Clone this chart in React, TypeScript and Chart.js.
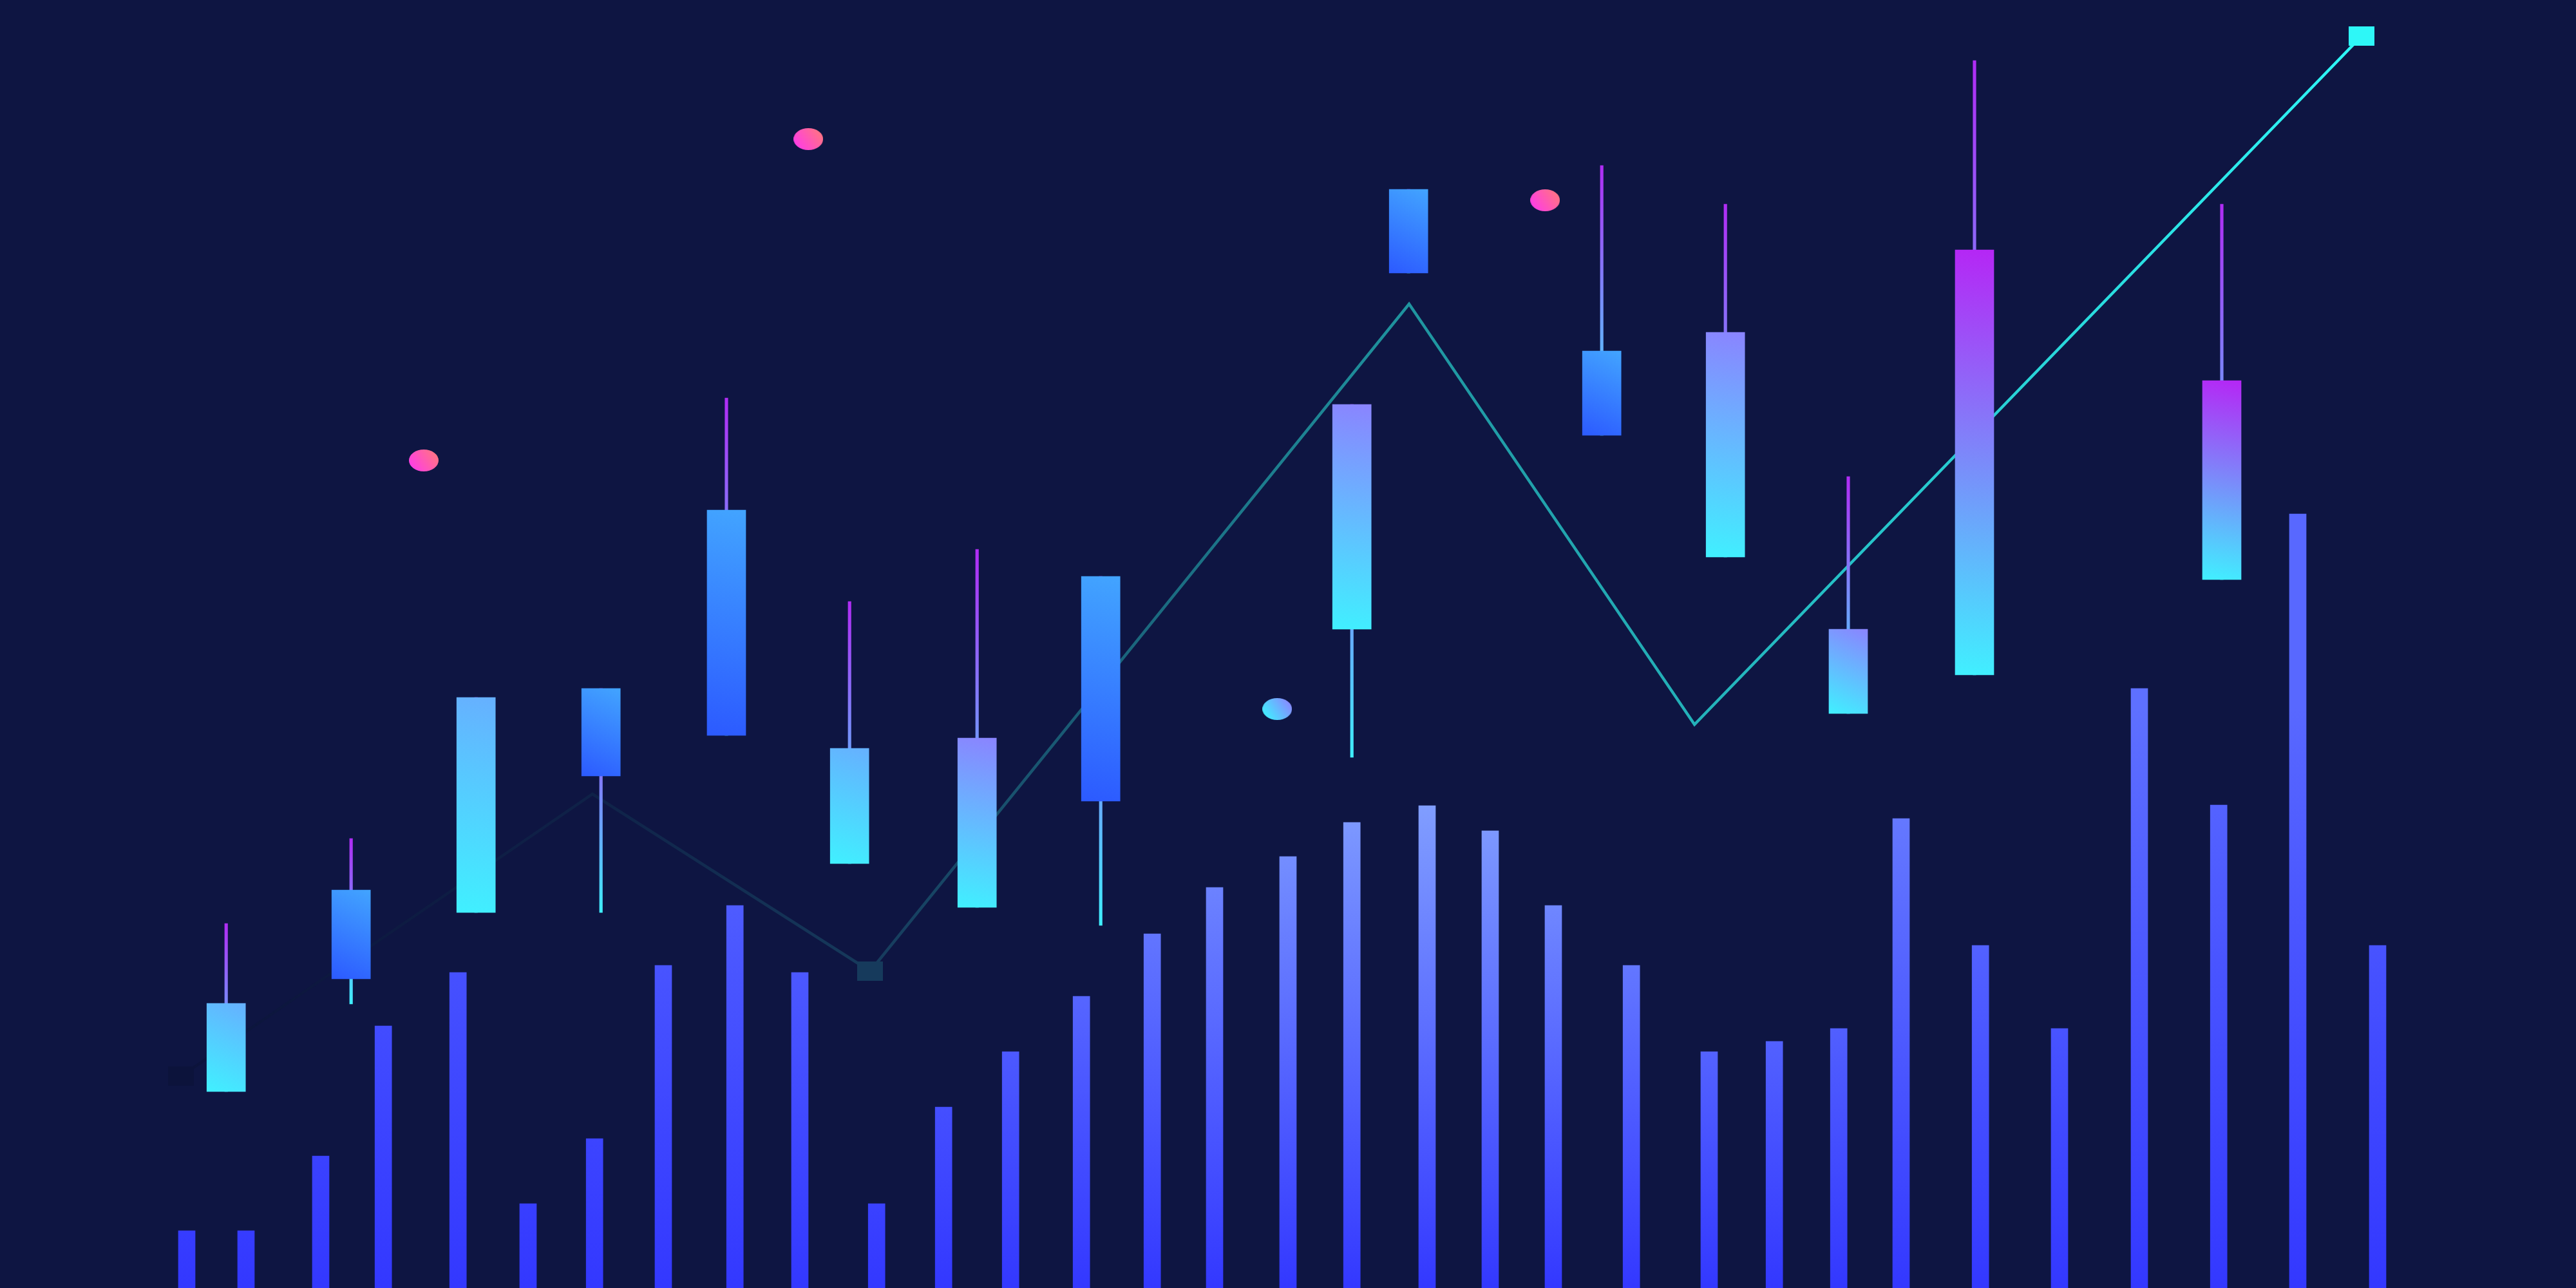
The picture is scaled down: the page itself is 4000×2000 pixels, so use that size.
import { useEffect, useRef } from "react";
import { Chart, registerables } from "chart.js";

Chart.register(...registerables);

// both axes run 0..100 across the whole canvas (time left to right, price bottom to top)
const volumeX = [
  7.25, 9.55, 12.45, 14.88, 17.78, 20.5, 23.08, 25.75, 28.53, 31.05, 34.03,
  36.63, 39.23, 41.98, 44.73, 47.15, 50.0, 52.48, 55.4, 57.85, 60.3, 63.33,
  66.35, 68.88, 71.38, 73.8, 76.88, 79.95, 83.05, 86.13, 89.2, 92.3,
];
const volumeValues = [
  4.45, 4.45, 10.25, 20.35, 24.5, 6.55, 11.6, 25.05, 29.7, 24.5, 6.55, 14.05,
  18.35, 22.65, 27.5, 31.1, 33.5, 36.15, 37.45, 35.5, 29.7, 25.05, 18.35,
  19.15, 20.15, 36.45, 26.6, 20.15, 46.55, 37.5, 60.1, 26.6,
];

const candleX = [
  8.78, 13.63, 18.48, 23.33, 28.2, 32.98, 37.93, 42.73, 52.48, 54.68, 62.18,
  66.98, 71.75, 76.65, 86.25,
];
const candleOpen = [
  15.25, 30.9, 29.15, 46.55, 60.4, 32.95, 29.55, 55.25, 51.15, 85.3, 72.75,
  56.75, 44.6, 47.6, 55.0,
];
const candleClose = [
  22.1, 24.0, 45.85, 39.75, 42.9, 41.9, 42.7, 37.8, 68.6, 78.8, 66.2, 74.2,
  51.15, 80.6, 70.45,
];
const candleHigh = [
  28.3, 34.9, 45.85, 46.55, 69.1, 53.3, 57.35, 55.25, 68.6, 85.3, 87.15,
  84.15, 63.0, 95.3, 84.15,
];
const candleLow = [
  15.25, 22.05, 29.15, 29.15, 42.9, 32.95, 29.55, 28.15, 41.2, 78.8, 66.2,
  56.75, 44.6, 47.6, 55.0,
];

const trendX = [7.03, 23.0, 33.78, 54.7, 65.78, 91.68];
const trendY = [16.45, 38.35, 24.6, 76.4, 43.75, 97.2];

const signalX = [16.45, 31.38, 59.98];
const signalY = [64.25, 89.2, 84.45];

const pivotX = [49.58];
const pivotY = [44.95];

const BG = "#0e1542";

type RGB = [number, number, number];

const hex = (h: string): RGB => [
  parseInt(h.slice(1, 3), 16),
  parseInt(h.slice(3, 5), 16),
  parseInt(h.slice(5, 7), 16),
];

const mix = (a: RGB, b: RGB, t: number) =>
  `rgb(${a.map((v, i) => Math.round(v + (b[i] - v) * t)).join(",")})`;

// colour ramp of the trend line, dark at the start, cyan at the end
const trendStops: [number, string][] = [
  [0, "#0c133b"],
  [0.19, "#0f2248"],
  [0.316, "#163a5c"],
  [0.563, "#1f949f"],
  [1, "#2ef7f7"],
];

function trendColorAt(t: number) {
  for (let i = 1; i < trendStops.length; i++) {
    const [t1, c1] = trendStops[i];
    const [t0, c0] = trendStops[i - 1];
    if (t <= t1) return mix(hex(c0), hex(c1), (t - t0) / (t1 - t0));
  }
  return trendStops[trendStops.length - 1][1];
}

const styleCache: Record<string, HTMLCanvasElement> = {};

function markerCanvas(key: string, w: number, h: number, paint: (ctx: CanvasRenderingContext2D) => void) {
  if (styleCache[key]) return styleCache[key];
  const c = document.createElement("canvas");
  c.width = w;
  c.height = h;
  const ctx = c.getContext("2d")!;
  paint(ctx);
  styleCache[key] = c;
  return c;
}

function ellipse(key: string, from: string, to: string) {
  return markerCanvas(key, 46, 34, (ctx) => {
    const g = ctx.createLinearGradient(4, 30, 42, 4);
    g.addColorStop(0, from);
    g.addColorStop(1, to);
    ctx.fillStyle = g;
    ctx.beginPath();
    ctx.ellipse(23, 17, 23, 17, 0, 0, Math.PI * 2);
    ctx.fill();
  });
}

function square(color: string) {
  return markerCanvas("sq" + color, 40, 30, (ctx) => {
    ctx.fillStyle = color;
    ctx.fillRect(0, 0, 40, 30);
  });
}

const volBottom = hex("#3338ff");
const volTop = hex("#90b2ff");

function volumeFill(c: any) {
  const chart = c.chart;
  const area = chart.chartArea;
  if (!area || !c.raw) return "#3338ff";
  const px = chart.scales.x.getPixelForValue(c.raw.x);
  const u = (px - area.left) / (area.right - area.left);
  const glow = 0.35 + 0.65 * Math.exp(-Math.pow((u - 0.5625) / 0.2, 2));
  const h = area.bottom - area.top;
  const g = chart.ctx.createLinearGradient(0, area.bottom, 0, area.bottom - 0.45 * h);
  g.addColorStop(0, mix(volBottom, volTop, 0));
  g.addColorStop(1, mix(volBottom, volTop, glow));
  return g;
}

function bodyFill(c: any) {
  const chart = c.chart;
  if (!chart.chartArea || !c.raw) return "#3a7bff";
  const [o, cl] = c.raw.y;
  const px = chart.scales.x.getPixelForValue(c.raw.x);
  const top = chart.scales.y.getPixelForValue(Math.max(o, cl));
  const bottom = chart.scales.y.getPixelForValue(Math.min(o, cl));
  const g = chart.ctx.createLinearGradient(px - 30, bottom, px + 30, top);
  if (cl < o) {
    g.addColorStop(0, "#2c5aff");
    g.addColorStop(1, "#42a4ff");
  } else {
    const x = c.raw.x;
    const tip = x < 35 ? "#66b0ff" : x < 74 ? "#8a84ff" : "#b526f5";
    g.addColorStop(0, "#40f0ff");
    g.addColorStop(1, tip);
  }
  return g;
}

function wickFill(c: any) {
  const chart = c.chart;
  if (!chart.chartArea || !c.raw) return "#788efa";
  const [lo, hi] = c.raw.y;
  const g = chart.ctx.createLinearGradient(
    0,
    chart.scales.y.getPixelForValue(hi),
    0,
    chart.scales.y.getPixelForValue(lo)
  );
  g.addColorStop(0, "#b02cf5");
  g.addColorStop(1, "#3ff0ff");
  return g;
}

const markedTrendPoints = new Set([0, 2, trendX.length - 1]);

function trendT(x: number) {
  return (x - trendX[0]) / (trendX[trendX.length - 1] - trendX[0]);
}

export default function App() {
  const canvasRef = useRef<HTMLCanvasElement>(null);
  const chartRef = useRef<Chart | null>(null);

  useEffect(() => {
    document.body.style.margin = "0";
    document.body.style.background = BG;
    if (!canvasRef.current) return;
    if (chartRef.current) chartRef.current.destroy();

    chartRef.current = new Chart(canvasRef.current, {
      type: "bar",
      data: {
        datasets: [
          {
            type: "line",
            label: "trend",
            data: trendX.map((x, i) => ({ x, y: trendY[i] })),
            borderWidth: 4.5,
            borderColor: (c: any) => {
              const chart = c.chart;
              if (!chart.chartArea) return "#1f949f";
              const x0 = chart.scales.x.getPixelForValue(trendX[0]);
              const x1 = chart.scales.x.getPixelForValue(trendX[trendX.length - 1]);
              const g = chart.ctx.createLinearGradient(x0, 0, x1, 0);
              trendStops.forEach(([t, col]) => g.addColorStop(t, col));
              return g;
            },
            tension: 0,
            fill: false,
            pointRadius: (c: any) => (markedTrendPoints.has(c.dataIndex) ? 12 : 0),
            pointStyle: (c: any) =>
              square(trendColorAt(trendT(trendX[c.dataIndex] ?? trendX[0]))) as any,
            order: 5,
          } as any,
          {
            label: "volume",
            data: volumeX.map((x, i) => ({ x, y: volumeValues[i] })),
            backgroundColor: volumeFill,
            barThickness: 26,
            grouped: false,
            borderWidth: 0,
            order: 4,
          },
          {
            label: "wick",
            data: candleX.map((x, i) => ({ x, y: [candleLow[i], candleHigh[i]] })),
            backgroundColor: wickFill,
            barThickness: 4.5,
            grouped: false,
            borderWidth: 0,
            order: 3,
          },
          {
            label: "body",
            data: candleX.map((x, i) => ({ x, y: [candleOpen[i], candleClose[i]] })),
            backgroundColor: bodyFill,
            barThickness: 60,
            grouped: false,
            borderWidth: 0,
            order: 2,
          },
          {
            type: "line",
            label: "signals",
            data: signalX.map((x, i) => ({ x, y: signalY[i] })),
            showLine: false,
            pointRadius: 12,
            pointStyle: ellipse("pink", "#ff3ce8", "#ff7482") as any,
            order: 1,
          } as any,
          {
            type: "line",
            label: "pivot",
            data: pivotX.map((x, i) => ({ x, y: pivotY[i] })),
            showLine: false,
            pointRadius: 12,
            pointStyle: ellipse("cyan", "#40f0ff", "#8a88ff") as any,
            order: 1,
          } as any,
        ],
      },
      options: {
        responsive: true,
        maintainAspectRatio: false,
        animation: false,
        layout: { padding: 0, autoPadding: false },
        plugins: {
          legend: { display: false },
          tooltip: { enabled: false },
        },
        scales: {
          x: { type: "linear", min: 0, max: 100, offset: false, display: false },
          y: { type: "linear", min: 0, max: 100, display: false },
        },
      },
    });

    return () => {
      if (chartRef.current) {
        chartRef.current.destroy();
        chartRef.current = null;
      }
    };
  }, []);

  return (
    <div style={{ position: "relative", width: 4000, height: 2000, background: BG }}>
      <canvas ref={canvasRef}></canvas>
    </div>
  );
}
